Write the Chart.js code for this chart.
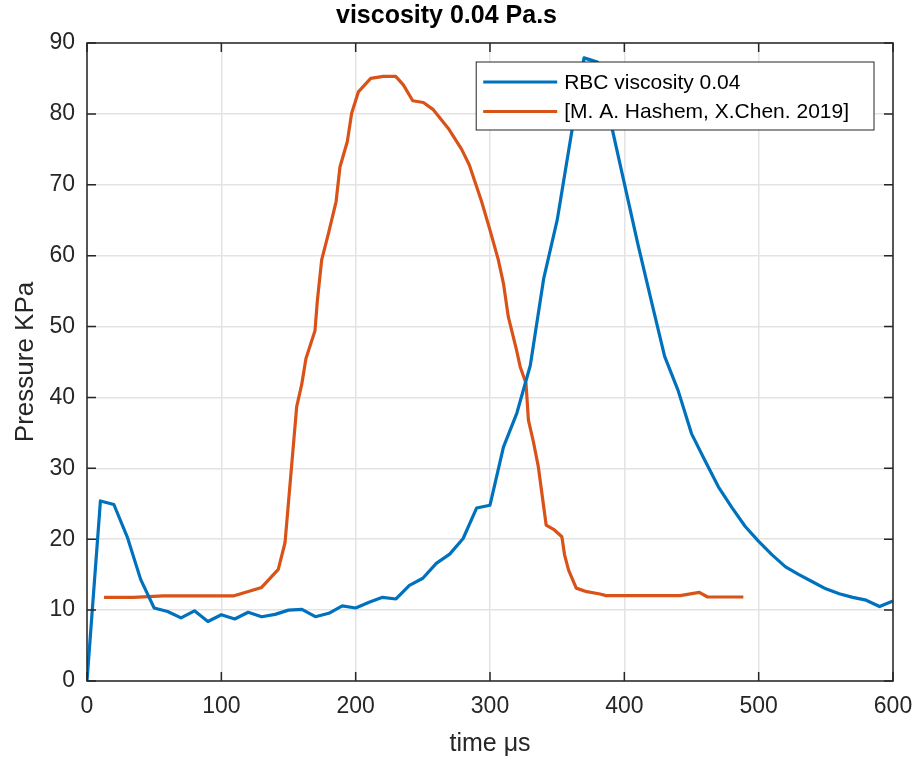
<!DOCTYPE html>
<html>
<head>
<meta charset="utf-8">
<script src="https://cdn.jsdelivr.net/npm/chart.js@4.4.0/dist/chart.umd.min.js"></script>
<style>
  body { margin: 0; background: #fff; }
  #wrap { width: 917px; height: 759px; }
</style>
</head>
<body>
<div id="wrap"><canvas id="chart"></canvas></div>
<script>
// RBC simulation, sampled every 10 us
const rbcTime = [0, 10, 20, 30, 40, 50, 60, 70, 80, 90, 100, 110, 120, 130, 140, 150, 160, 170, 180, 190,
  200, 210, 220, 230, 240, 250, 260, 270, 280, 290, 300, 310, 320, 330, 340, 350, 360, 370, 380, 390,
  400, 410, 420, 430, 440, 450, 460, 470, 480, 490, 500, 510, 520, 530, 540, 550, 560, 570, 580, 590, 600];
const rbcPressure = [0, 25.4, 24.9, 20.3, 14.3, 10.3, 9.8, 8.9, 9.9, 8.4, 9.35, 8.75, 9.7, 9.07, 9.4, 10.0, 10.1, 9.07, 9.55, 10.6,
  10.3, 11.1, 11.8, 11.57, 13.5, 14.5, 16.6, 17.9, 20.1, 24.4, 24.8, 33.0, 37.8, 44.5, 56.8, 65.0, 76.5, 87.9, 87.3, 78.7,
  70.2, 61.7, 53.7, 45.8, 41.0, 34.9, 31.1, 27.4, 24.5, 21.8, 19.7, 17.8, 16.1, 15.0, 14.0, 13.0, 12.3, 11.8, 11.4, 10.5, 11.3];

const refTime = [12.7, 34.5, 56.8, 108.9, 130, 142.4, 147.4, 156.1, 159.8, 163, 169.7, 171.5, 174.7, 179.7, 185.4, 188.3,
  193.8, 197, 202, 211.2, 220.6, 229.8, 235.5, 242.5, 250.4, 257.8, 269, 278.9, 284.6, 293.8, 300, 306.2, 310, 313.6,
  319.5, 322.5, 326.8, 328.6, 332.3, 336, 341.8, 347.3, 353.5, 355.5, 358.5, 364.2, 372, 381.9, 386.4, 441.5, 455.8, 462, 488.6];
const refPressure = [11.8, 11.8, 12.0, 12.0, 13.2, 15.75, 19.5, 38.7, 41.8, 45.5, 49.4, 53.7, 59.4, 63.1, 67.6, 72.5,
  76.1, 80.1, 83.1, 85.0, 85.3, 85.3, 84.1, 81.85, 81.6, 80.6, 77.95, 75.0, 72.8, 67.6, 63.6, 59.4, 56.1, 51.4,
  46.9, 44.3, 42.0, 36.8, 33.75, 30.2, 22.0, 21.4, 20.35, 17.8, 15.65, 13.1, 12.6, 12.27, 12.05, 12.05, 12.5, 11.85, 11.85];

const seriesLabels = ['RBC viscosity 0.04', '[M. A. Hashem, X.Chen. 2019]'];
const seriesColors = ['#0072BD', '#D95319'];

const FONT = '"Liberation Sans", Arial, sans-serif';
const INK = '#262626';

const toPoints = (xs, ys) => xs.map((v, i) => ({ x: v, y: ys[i] }));

// box, inward ticks and legend inside the axes
const framePlugin = {
  id: 'frame',
  afterDatasetsDraw(chart) {
    const { ctx, chartArea: a, scales } = chart;
    const x = scales.x, y = scales.y;
    ctx.save();
    ctx.strokeStyle = INK;
    ctx.lineWidth = 1.5;
    ctx.beginPath();
    x.ticks.forEach(t => {
      const px = x.getPixelForValue(t.value);
      ctx.moveTo(px, a.bottom); ctx.lineTo(px, a.bottom - 9);
      ctx.moveTo(px, a.top); ctx.lineTo(px, a.top + 9);
    });
    y.ticks.forEach(t => {
      const py = y.getPixelForValue(t.value);
      ctx.moveTo(a.left, py); ctx.lineTo(a.left + 9, py);
      ctx.moveTo(a.right, py); ctx.lineTo(a.right - 9, py);
    });
    ctx.stroke();
    ctx.strokeRect(a.left, a.top, a.right - a.left, a.bottom - a.top);

    // legend
    ctx.font = '21px ' + FONT;
    const textW = Math.max(...seriesLabels.map(s => ctx.measureText(s).width));
    const w = 7 + 74 + 7 + textW + 25;
    const h = 68;
    const lx = a.right - 19 - w;
    const ly = a.top + 19;
    ctx.fillStyle = '#fff';
    ctx.fillRect(lx, ly, w, h);
    ctx.lineWidth = 1;
    ctx.strokeRect(lx, ly, w, h);
    seriesLabels.forEach((s, i) => {
      const ry = ly + 20 + i * 29.5;
      ctx.strokeStyle = seriesColors[i];
      ctx.lineWidth = 3;
      ctx.beginPath();
      ctx.moveTo(lx + 7, ry); ctx.lineTo(lx + 81, ry);
      ctx.stroke();
      ctx.fillStyle = '#000';
      ctx.textBaseline = 'middle';
      ctx.fillText(s, lx + 88, ry + 1);
    });
    ctx.restore();
  }
};

new Chart(document.getElementById('chart'), {
  type: 'line',
  data: {
    datasets: [
      { label: seriesLabels[0], data: toPoints(rbcTime, rbcPressure), borderColor: seriesColors[0] },
      { label: seriesLabels[1], data: toPoints(refTime, refPressure), borderColor: seriesColors[1] }
    ]
  },
  options: {
    responsive: true,
    maintainAspectRatio: false,
    animation: false,
    layout: { padding: { top: 0, right: 24, bottom: 0, left: 0 } },
    elements: {
      point: { radius: 0 },
      line: { borderWidth: 3.2, tension: 0, borderJoinStyle: 'round', fill: false }
    },
    plugins: {
      legend: { display: false },
      tooltip: { enabled: false },
      title: {
        display: true,
        text: 'viscosity 0.04 Pa.s',
        color: '#000',
        font: { family: FONT, size: 25, weight: 'bold' },
        padding: { top: 1, bottom: 12 }
      }
    },
    scales: {
      x: {
        type: 'linear',
        min: 0, max: 600,
        afterFit: s => { s.height = 78; s.paddingLeft = 0; s.paddingRight = 0; },
        ticks: { stepSize: 100, color: INK, padding: 12, font: { family: FONT, size: 23 }, maxRotation: 0 },
        grid: { color: '#e3e3e3', lineWidth: 1.5, drawTicks: false },
        border: { display: false },
        title: { display: true, text: 'time μs', color: INK, font: { family: FONT, size: 25 }, padding: { top: 0, bottom: 0 } }
      },
      y: {
        min: 0, max: 90,
        afterFit: s => { s.width = 87; s.paddingTop = 0; s.paddingBottom = 0; },
        ticks: { stepSize: 10, color: INK, padding: 12, font: { family: FONT, size: 23 } },
        grid: { color: '#e3e3e3', lineWidth: 1.5, drawTicks: false },
        border: { display: false },
        title: { display: true, text: 'Pressure KPa', color: INK, font: { family: FONT, size: 26 }, padding: { top: 10, bottom: 0 } }
      }
    }
  },
  plugins: [framePlugin]
});
</script>
</body>
</html>
